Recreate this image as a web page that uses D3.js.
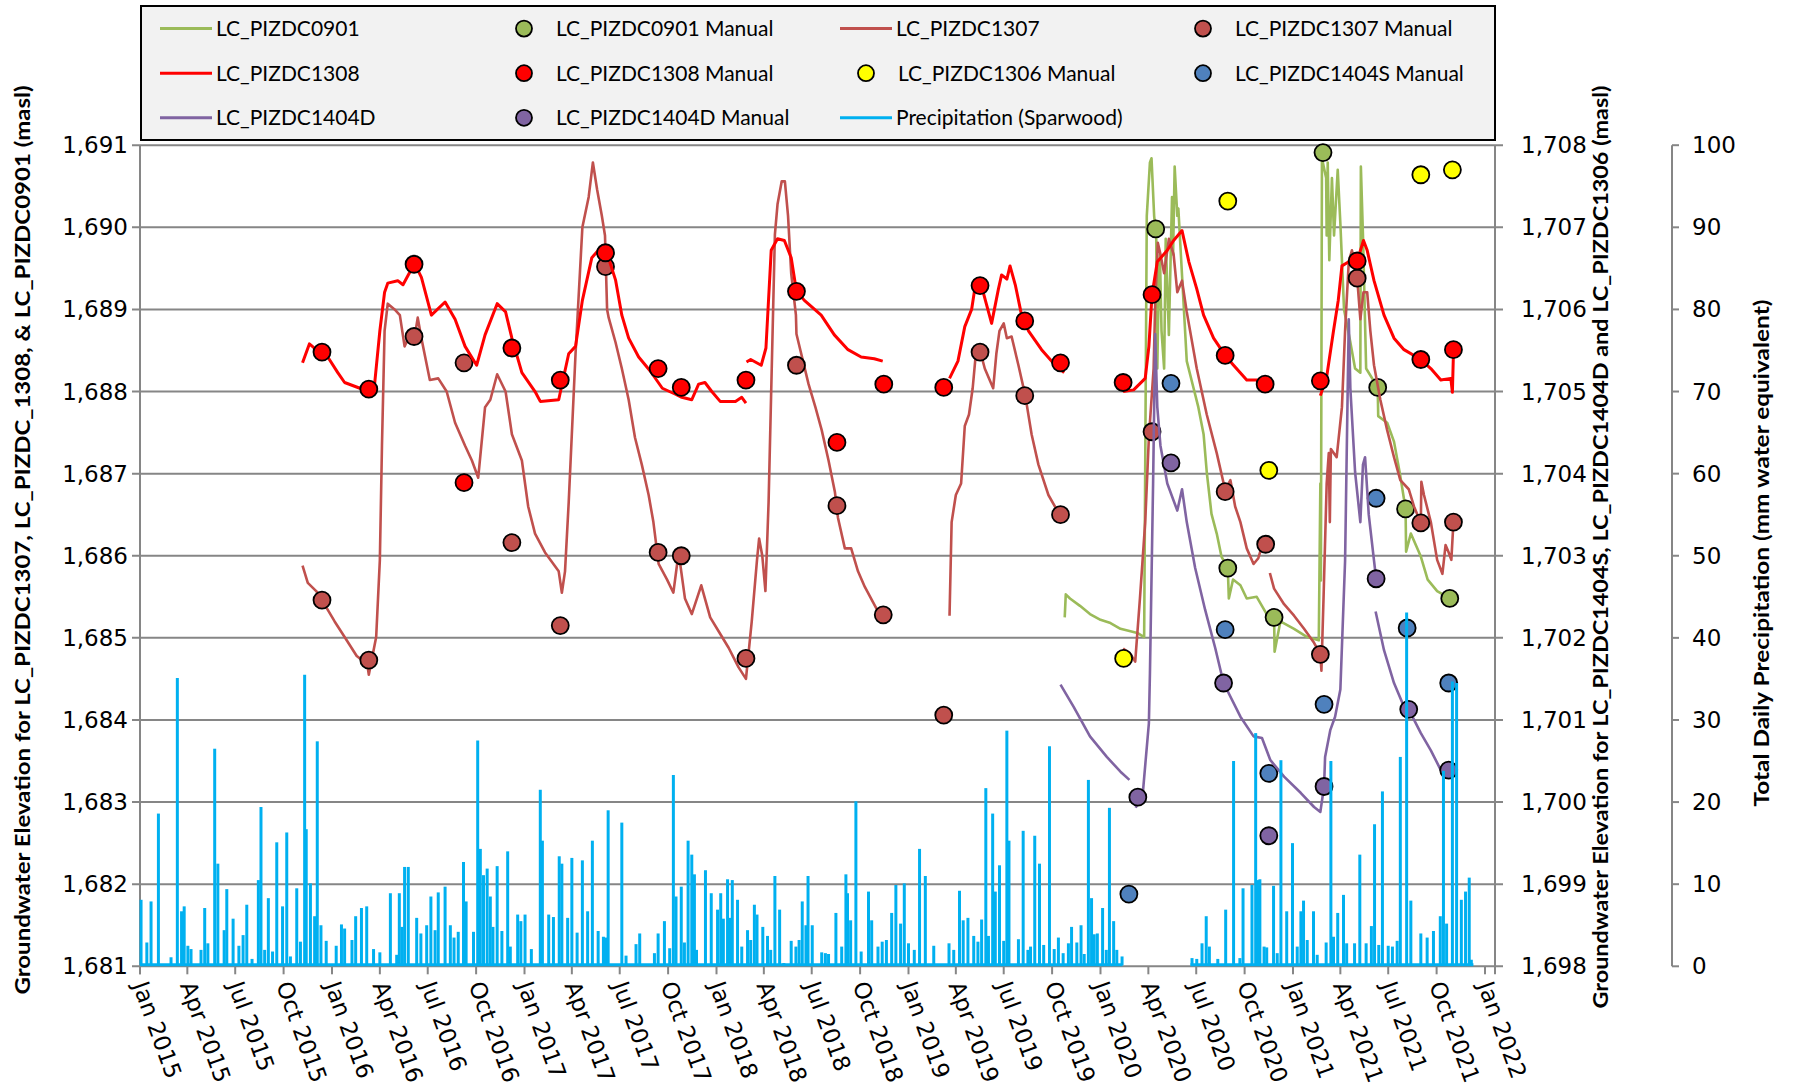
<!DOCTYPE html>
<meta charset="utf-8">
<html>
<head>
<style>
body{margin:0;background:#fff;}
text{font-family:"DejaVu Sans",Verdana,sans-serif;fill:#000;}
.tick-label{font-size:23px;}
.title{font-family:"Liberation Sans Narrow","Lato",sans-serif;font-weight:bold;font-size:21px;}
.legend text{font-family:"Liberation Sans Narrow","Lato",sans-serif;font-size:21px;}
.grid{stroke:#868686;stroke-width:2;}
.axisline{stroke:#868686;stroke-width:2;}
</style>
</head>
<body>
<script src="https://d3js.org/d3.v7.min.js"></script>
<script>
// ---- data ----
// logger lines: [date, elevation]; null breaks the line
var pizdc0901 = [
["2019-10-25",1685.25],["2019-10-27",1685.53],["2019-11-04",1685.48],["2019-11-23",1685.39],["2019-12-12",1685.29],["2020-01-01",1685.22],["2020-01-20",1685.18],["2020-02-08",1685.11],["2020-02-27",1685.08],["2020-03-11",1685.06],["2020-03-24",1685.01],
["2020-03-29",1690.14],["2020-04-04",1690.79],["2020-04-07",1690.84],["2020-04-12",1690.14],["2020-04-16",1689.86],["2020-04-18",1688.28],["2020-04-21",1689.44],["2020-04-23",1689.67],["2020-04-26",1688.74],["2020-05-01",1688.28],["2020-05-04",1689.86],["2020-05-10",1688.69],["2020-05-16",1690.37],["2020-05-18",1689.67],["2020-05-21",1690.74],["2020-05-26",1690.14],["2020-05-28",1690.23],
["2020-06-13",1688.37],["2020-06-26",1688.04],["2020-07-05",1687.81],["2020-07-15",1687.48],["2020-07-21",1687.02],["2020-07-30",1686.51],["2020-08-09",1686.27],["2020-08-18",1685.99],["2020-08-30",1685.85],["2020-09-01",1685.48],["2020-09-09",1685.71],["2020-09-23",1685.64],["2020-10-05",1685.48],["2020-10-24",1685.50],["2020-11-12",1685.29],["2020-11-26",1685.25],["2020-11-27",1684.83],["2020-12-08",1685.20],["2021-01-03",1685.11],["2021-01-28",1685.01],["2021-02-19",1684.97],
["2021-02-22",1686.88],["2021-02-23",1685.70],["2021-02-25",1690.84],["2021-03-05",1690.60],["2021-03-06",1689.90],["2021-03-08",1690.79],["2021-03-11",1689.60],["2021-03-16",1690.60],["2021-03-20",1689.90],["2021-03-27",1690.70],["2021-04-01",1690.05],["2021-04-08",1689.00],["2021-04-20",1688.60],["2021-04-29",1688.28],["2021-05-09",1688.23],["2021-05-10",1690.74],["2021-05-14",1689.90],["2021-05-20",1688.28],
["2021-06-11",1688.05],["2021-06-12",1687.70],["2021-06-29",1687.62],["2021-07-12",1687.39],["2021-07-24",1686.97],["2021-08-03",1686.57],["2021-08-04",1686.05],["2021-08-13",1686.27],["2021-09-01",1685.99],["2021-09-14",1685.71],["2021-10-02",1685.57],["2021-10-26",1685.48]
];
var pizdc0901Manual = [["2020-04-15",1689.98],["2020-08-30",1685.85],["2020-11-26",1685.25],["2021-02-27",1690.91],["2021-06-11",1688.05],["2021-08-03",1686.57],["2021-10-26",1685.48]];

var pizdc1307 = [
["2015-11-06",1685.88],["2015-11-16",1685.67],["2015-12-02",1685.57],["2015-12-13",1685.46],["2016-01-06",1685.20],["2016-01-25",1685.01],["2016-02-17",1684.78],["2016-03-08",1684.68],["2016-03-11",1684.55],["2016-03-25",1685.01],["2016-04-01",1685.95],["2016-04-05",1687.34],["2016-04-10",1688.74],["2016-04-16",1689.07],["2016-04-29",1689.00],["2016-05-09",1688.93],["2016-05-18",1688.55],["2016-05-31",1688.74],["2016-06-05",1688.62],["2016-06-12",1688.90],["2016-06-19",1688.65],["2016-07-05",1688.14],["2016-07-21",1688.16],["2016-08-06",1688.00],["2016-08-22",1687.62],["2016-09-10",1687.34],["2016-09-23",1687.16],["2016-10-05",1686.95],["2016-10-18",1687.81],["2016-10-28",1687.90],["2016-11-10",1688.21],["2016-11-26",1688.00],["2016-12-08",1687.48],["2016-12-27",1687.16],
["2017-01-08",1686.60],["2017-01-21",1686.27],["2017-02-09",1686.04],["2017-03-07",1685.81],["2017-03-13",1685.55],["2017-03-19",1685.81],["2017-03-26",1686.65],["2017-04-08",1688.46],["2017-04-21",1690.00],["2017-05-03",1690.37],["2017-05-11",1690.79],["2017-05-19",1690.46],["2017-05-28",1690.14],["2017-06-03",1689.90],["2017-06-07",1689.00],["2017-06-10",1688.90],["2017-06-23",1688.60],["2017-07-05",1688.28],["2017-07-18",1687.90],["2017-07-30",1687.44],["2017-08-12",1687.11],["2017-08-25",1686.74],["2017-09-03",1686.41],["2017-09-13",1685.90],["2017-09-29",1685.71],["2017-10-11",1685.55],["2017-10-21",1686.04],["2017-11-02",1685.48],["2017-11-15",1685.29],["2017-12-03",1685.64],["2017-12-20",1685.25],
["2018-01-05",1685.08],["2018-01-24",1684.88],["2018-02-12",1684.64],["2018-02-26",1684.50],["2018-03-09",1685.20],["2018-03-19",1685.95],["2018-03-23",1686.21],["2018-03-29",1686.00],["2018-04-04",1685.57],["2018-04-10",1686.65],["2018-04-16",1688.28],["2018-04-22",1689.91],["2018-04-27",1690.28],["2018-05-05",1690.56],["2018-05-11",1690.56],["2018-05-17",1690.14],["2018-05-23",1689.44],["2018-06-01",1688.93],["2018-06-02",1688.70],["2018-06-25",1688.09],["2018-07-08",1687.81],["2018-07-20",1687.53],["2018-08-02",1687.16],["2018-08-14",1686.78],["2018-08-20",1686.46],["2018-09-02",1686.09],["2018-09-14",1686.09],["2018-09-27",1685.81],["2018-10-10",1685.62],["2018-10-26",1685.43],["2018-11-14",1685.20],
null,
["2019-03-20",1685.27],["2019-03-24",1686.41],["2019-04-01",1686.74],["2019-04-11",1686.88],["2019-04-18",1687.58],["2019-04-26",1687.72],["2019-05-03",1688.04],["2019-05-09",1688.46],["2019-05-17",1688.50],["2019-05-26",1688.28],["2019-06-11",1688.04],["2019-06-17",1688.46],["2019-06-23",1688.74],["2019-07-01",1688.83],["2019-07-07",1688.65],["2019-07-16",1688.67],["2019-07-29",1688.32],["2019-08-11",1687.95],["2019-08-23",1687.48],["2019-09-05",1687.11],["2019-09-24",1686.74],["2019-10-17",1686.48],
null,
["2020-02-13",1684.87],["2020-02-27",1684.80],["2020-03-07",1684.71],["2020-03-16",1685.48],["2020-03-26",1686.41],["2020-04-02",1687.44],["2020-04-11",1688.28],["2020-04-14",1689.07],["2020-04-19",1689.81],["2020-04-24",1689.67],["2020-05-01",1689.44],["2020-05-10",1689.86],["2020-05-19",1689.67],["2020-05-26",1689.21],["2020-06-04",1689.35],["2020-06-13",1688.97],["2020-07-02",1688.28],["2020-07-21",1687.72],["2020-08-09",1687.25],["2020-08-25",1686.80],["2020-09-04",1686.92],["2020-09-13",1686.60],["2020-09-23",1686.41],["2020-10-05",1686.09],["2020-10-18",1685.90],["2020-10-27",1685.97],["2020-11-03",1686.12],
null,
["2020-11-18",1685.79],["2020-11-26",1685.60],["2020-12-15",1685.41],["2021-01-03",1685.27],["2021-01-22",1685.11],["2021-02-10",1684.94],["2021-02-22",1684.80],["2021-02-24",1684.60],["2021-02-28",1685.48],["2021-03-06",1686.88],["2021-03-10",1687.25],["2021-03-12",1686.41],["2021-03-14",1687.30],["2021-03-25",1687.20],["2021-04-04",1687.81],["2021-04-10",1688.74],["2021-04-17",1689.58],["2021-04-23",1689.72],["2021-05-03",1689.38],["2021-05-09",1688.88],["2021-05-15",1689.21],["2021-05-22",1689.21],["2021-05-28",1688.74],["2021-06-04",1688.32],["2021-06-16",1687.90],["2021-06-29",1687.53],["2021-07-12",1687.20],["2021-07-24",1686.92],["2021-08-09",1686.81],["2021-08-19",1686.60],["2021-09-01",1686.40],["2021-09-02",1686.90],["2021-09-07",1686.74],["2021-09-20",1686.41],["2021-10-02",1685.95],["2021-10-12",1685.78],["2021-10-18",1686.13],["2021-10-24",1686.04],["2021-10-29",1685.95],["2021-11-02",1686.41]
];
var pizdc1307Manual = [["2015-12-13",1685.46],["2016-03-11",1684.73],["2016-06-05",1688.67],["2016-09-08",1688.35],["2016-12-08",1686.16],["2017-03-10",1685.15],["2017-06-04",1689.52],["2017-09-12",1686.04],["2017-10-26",1686.00],["2018-02-26",1684.75],["2018-06-02",1688.32],["2018-08-18",1686.61],["2018-11-14",1685.28],["2019-03-09",1684.06],["2019-05-17",1688.48],["2019-08-10",1687.95],["2019-10-17",1686.50],["2020-04-08",1687.51],["2020-08-25",1686.78],["2020-11-10",1686.14],["2021-02-22",1684.80],["2021-05-03",1689.38],["2021-09-01",1686.40],["2021-11-02",1686.41]];

var pizdc1308 = [
["2015-11-06",1688.35],["2015-11-19",1688.58],["2015-12-02",1688.51],["2015-12-24",1688.42],["2016-01-12",1688.23],["2016-01-25",1688.11],["2016-02-23",1688.04],["2016-03-22",1688.09],["2016-04-01",1688.74],["2016-04-10",1689.21],["2016-04-16",1689.32],["2016-05-05",1689.35],["2016-05-15",1689.30],["2016-05-25",1689.42],["2016-06-06",1689.56],["2016-06-19",1689.39],["2016-07-08",1688.93],["2016-08-03",1689.09],["2016-08-22",1688.88],["2016-09-10",1688.55],["2016-10-02",1688.32],["2016-10-18",1688.69],["2016-11-10",1689.07],["2016-11-26",1688.97],["2016-12-08",1688.65],["2016-12-27",1688.23],
["2017-01-21",1688.00],["2017-01-31",1687.88],["2017-03-07",1687.90],["2017-03-26",1688.46],["2017-04-08",1688.55],["2017-04-21",1689.11],["2017-05-09",1689.63],["2017-05-28",1689.77],["2017-06-07",1689.68],["2017-06-23",1689.36],["2017-07-05",1688.93],["2017-07-18",1688.65],["2017-08-06",1688.42],["2017-08-28",1688.25],["2017-09-20",1688.04],["2017-10-14",1687.97],["2017-10-27",1687.93],["2017-11-15",1687.90],["2017-11-28",1688.09],["2017-12-10",1688.11],["2017-12-23",1688.00],["2018-01-08",1687.88],["2018-02-06",1687.88],["2018-02-18",1687.93],["2018-02-26",1687.86],
null,
["2018-02-27",1688.36],["2018-03-07",1688.39],["2018-03-27",1688.32],["2018-04-05",1688.53],["2018-04-15",1689.72],["2018-04-27",1689.86],["2018-05-10",1689.84],["2018-05-23",1689.63],["2018-06-02",1689.22],["2018-06-17",1689.11],["2018-07-19",1688.93],["2018-08-13",1688.69],["2018-09-08",1688.51],["2018-10-03",1688.42],["2018-10-28",1688.40],["2018-11-13",1688.37],
null,
["2019-03-20",1688.16],["2019-04-05",1688.37],["2019-04-18",1688.79],["2019-05-01",1689.00],["2019-05-07",1689.25],["2019-05-20",1689.28],["2019-06-08",1688.83],["2019-06-21",1689.25],["2019-06-27",1689.42],["2019-07-07",1689.37],["2019-07-13",1689.53],["2019-07-23",1689.30],["2019-08-04",1688.93],["2019-08-17",1688.74],["2019-09-11",1688.51],["2019-10-07",1688.32],["2019-10-24",1688.23],
null,
["2020-02-13",1688.00],["2020-03-04",1688.02],["2020-03-26",1688.16],["2020-04-02",1688.55],["2020-04-08",1689.18],["2020-04-18",1689.58],["2020-05-07",1689.72],["2020-05-19",1689.84],["2020-06-04",1689.96],["2020-06-17",1689.58],["2020-07-02",1689.25],["2020-07-15",1688.93],["2020-08-03",1688.65],["2020-08-25",1688.44],["2020-09-10",1688.32],["2020-10-05",1688.14],["2020-10-30",1688.14],["2020-11-09",1688.09],
null,
["2021-02-22",1687.95],["2021-03-06",1688.18],["2021-03-19",1688.74],["2021-03-28",1689.11],["2021-04-04",1689.53],["2021-04-17",1689.58],["2021-05-03",1689.59],["2021-05-15",1689.84],["2021-05-22",1689.72],["2021-06-04",1689.35],["2021-06-23",1688.93],["2021-07-12",1688.65],["2021-07-31",1688.51],["2021-09-01",1688.39],["2021-09-20",1688.28],["2021-10-09",1688.14],["2021-10-28",1688.16],["2021-10-31",1687.99],["2021-11-02",1688.47]
];
var pizdc1308Manual = [["2015-12-13",1688.48],["2016-03-11",1688.03],["2016-06-05",1689.55],["2016-09-08",1686.89],["2016-12-08",1688.53],["2017-03-10",1688.14],["2017-06-04",1689.69],["2017-09-12",1688.28],["2017-10-26",1688.05],["2018-02-26",1688.14],["2018-06-02",1689.22],["2018-08-18",1687.38],["2018-11-15",1688.09],["2019-03-09",1688.05],["2019-05-17",1689.29],["2019-08-10",1688.86],["2019-10-17",1688.35],["2020-02-13",1688.11],["2020-04-08",1689.18],["2020-08-25",1688.44],["2020-11-09",1688.09],["2021-02-22",1688.13],["2021-05-03",1689.59],["2021-09-01",1688.39],["2021-11-02",1688.51]];

// right axis series
var pizdc1306Manual = [["2020-02-14",1701.75],["2020-08-30",1707.32],["2020-11-16",1704.04],["2021-09-01",1707.64],["2021-10-31",1707.70]];
var pizdc1404SManual = [["2020-02-24",1698.88],["2020-05-14",1705.10],["2020-08-25",1702.10],["2020-11-16",1700.35],["2021-03-01",1701.19],["2021-06-08",1703.70],["2021-08-06",1702.12],["2021-10-24",1701.45]];
var pizdc1404D = [
["2019-10-17",1701.43],["2019-11-11",1701.16],["2019-12-12",1700.80],["2020-01-13",1700.55],["2020-02-08",1700.37],["2020-02-25",1700.27],
null,
["2020-03-08",1699.93],["2020-03-22",1700.15],["2020-04-02",1700.96],["2020-04-04",1701.57],["2020-04-10",1703.88],["2020-04-14",1705.70],["2020-04-18",1704.81],["2020-04-24",1704.34],["2020-05-07",1703.88],["2020-05-26",1703.55],["2020-06-04",1703.81],["2020-06-13",1703.41],["2020-06-29",1702.85],["2020-07-18",1702.34],["2020-08-06",1701.88],["2020-08-22",1701.45],["2020-09-23",1701.04],["2020-10-18",1700.80],["2020-11-03",1700.78],["2020-11-19",1700.51],["2020-12-15",1700.31],["2021-01-16",1700.11],["2021-02-10",1699.94],["2021-02-22",1699.88],["2021-03-01",1700.19],["2021-03-03",1700.55],["2021-03-13",1700.88],["2021-03-22",1701.04],["2021-04-01",1701.37],["2021-04-10",1702.94],["2021-04-17",1705.88],["2021-04-20",1705.04],["2021-04-29",1704.02],["2021-05-09",1703.41],["2021-05-14",1704.11],["2021-05-18",1704.20],["2021-05-25",1703.50],["2021-06-04",1702.94],["2021-06-08",1702.72],
null,
["2021-06-07",1702.32],["2021-06-23",1701.85],["2021-07-12",1701.45],["2021-07-31",1701.16],["2021-08-09",1701.13],["2021-09-01",1700.84],["2021-09-20",1700.63],["2021-10-09",1700.39],["2021-10-24",1700.39]
];
var pizdc1404DManual = [["2020-03-12",1700.06],["2020-05-14",1704.13],["2020-08-22",1701.45],["2020-11-16",1699.59],["2021-03-01",1700.19],["2021-06-08",1702.72],["2021-08-09",1701.13],["2021-10-24",1700.39]];

// daily precipitation spikes (mm), and the spans with records
var precip = [
["2015-01-03",8.1],["2015-01-14",2.9],["2015-01-22",7.9],["2015-02-05",18.6],["2015-03-01",1.1],["2015-03-13",35.1],["2015-03-21",6.7],["2015-03-26",7.3],["2015-04-02",2.5],["2015-04-08",2.1],["2015-04-27",2.0],["2015-05-04",7.1],["2015-05-10",2.8],["2015-05-23",26.5],["2015-05-29",12.5],["2015-06-10",4.4],["2015-06-15",9.4],["2015-06-27",5.8],["2015-07-08",2.5],["2015-07-16",3.8],["2015-07-23",7.5],["2015-08-02",0.9],["2015-08-14",10.5],["2015-08-19",19.4],["2015-08-26",2.0],["2015-09-02",8.3],["2015-09-10",1.8],["2015-09-18",15.1],["2015-09-29",7.3],["2015-10-07",16.3],["2015-10-14",1.2],["2015-10-26",9.5],["2015-11-02",3.0],["2015-11-10",35.5],["2015-11-13",16.7],["2015-11-21",10.1],["2015-11-29",6.1],["2015-12-04",27.4],["2015-12-11",5.0],["2015-12-21",3.1],
["2016-01-09",2.5],["2016-01-19",5.1],["2016-01-25",4.6],["2016-02-08",3.2],["2016-02-15",6.1],["2016-02-26",7.1],["2016-03-07",7.3],["2016-03-20",2.1],["2016-04-01",1.7],["2016-04-21",8.9],["2016-05-03",1.4],["2016-05-08",8.9],["2016-05-13",4.8],["2016-05-18",12.1],["2016-05-25",12.1],["2016-06-10",5.9],["2016-06-18",4.0],["2016-06-29",5.0],["2016-07-07",8.5],["2016-07-15",4.4],["2016-07-21",9.0],["2016-08-03",9.7],["2016-08-13",5.0],["2016-08-20",3.5],["2016-08-28",4.2],["2016-09-07",12.7],["2016-09-12",7.9],["2016-09-26",4.2],["2016-10-04",27.5],["2016-10-09",14.3],["2016-10-15",11.1],["2016-10-22",11.9],["2016-10-28",8.5],["2016-11-02",4.8],["2016-11-10",12.2],["2016-11-19",4.3],["2016-11-30",14.0],["2016-12-05",2.4],["2016-12-19",6.3],["2016-12-25",5.5],
["2017-01-02",6.3],["2017-01-14",2.1],["2017-01-31",21.5],["2017-02-04",15.3],["2017-02-16",6.3],["2017-02-25",6.0],["2017-03-08",13.4],["2017-03-13",12.5],["2017-03-24",5.9],["2017-04-01",13.2],["2017-04-11",4.1],["2017-04-21",12.9],["2017-05-01",6.7],["2017-05-10",15.3],["2017-05-21",4.3],["2017-05-31",3.6],["2017-06-04",3.5],["2017-06-09",19.0],["2017-07-05",17.5],["2017-07-13",1.3],["2017-08-01",2.7],["2017-08-08",4.0],["2017-09-05",1.6],["2017-09-12",4.0],["2017-09-24",5.5],["2017-10-04",2.2],["2017-10-11",23.3],["2017-10-16",8.5],["2017-10-26",9.7],["2017-11-01",2.9],["2017-11-08",15.3],["2017-11-15",13.6],["2017-11-20",11.2],["2017-11-24",2.0],["2017-12-11",11.7],["2017-12-22",8.9],
["2018-01-03",6.9],["2018-01-09",8.9],["2018-01-14",5.8],["2018-01-22",10.6],["2018-01-27",5.9],["2018-01-31",10.5],["2018-02-10",8.1],["2018-02-18",2.4],["2018-03-01",4.4],["2018-03-07",3.2],["2018-03-14",7.5],["2018-03-19",6.3],["2018-03-30",4.8],["2018-04-08",3.7],["2018-04-14",2.0],["2018-04-22",11.0],["2018-05-01",6.9],["2018-05-09",0.4],["2018-05-23",3.1],["2018-06-01",2.4],["2018-06-07",3.2],["2018-06-13",7.9],["2018-06-20",5.0],["2018-06-24",11.0],["2018-07-02",5.0],["2018-07-20",1.7],["2018-07-27",1.6],["2018-08-02",1.5],["2018-08-16",6.5],["2018-08-27",2.4],["2018-09-04",11.2],["2018-09-07",8.9],["2018-09-13",5.6],["2018-09-23",20.1],["2018-10-03",1.8],["2018-10-17",9.1],["2018-10-23",5.6],["2018-11-04",2.4],["2018-11-12",3.0],["2018-11-20",3.2],["2018-11-30",6.5],["2018-12-08",9.9],["2018-12-17",5.2],["2018-12-24",10.1],
["2019-01-01",2.8],["2019-01-12",2.0],["2019-01-22",14.3],["2019-02-02",11.0],["2019-02-18",2.5],["2019-03-19",2.8],["2019-03-28",2.0],["2019-04-08",9.2],["2019-04-15",5.6],["2019-04-24",5.9],["2019-05-05",3.7],["2019-05-13",3.0],["2019-05-20",5.7],["2019-05-28",21.7],["2019-06-02",3.7],["2019-06-10",18.6],["2019-06-15",9.1],["2019-06-23",12.3],["2019-07-01",3.1],["2019-07-07",28.7],["2019-07-11",15.3],["2019-07-29",3.3],["2019-08-07",16.5],["2019-08-16",2.0],["2019-08-21",2.4],["2019-08-29",15.9],["2019-09-07",12.5],["2019-09-15",2.6],["2019-09-26",26.8],["2019-10-05",2.1],["2019-10-13",3.5],["2019-10-22",1.6],["2019-11-01",2.8],["2019-11-07",4.8],["2019-11-17",2.9],["2019-11-25",5.0],["2019-12-01",1.5],["2019-12-09",22.7],["2019-12-15",8.3],["2019-12-20",3.9],["2019-12-26",4.0],
["2020-01-05",7.1],["2020-01-12",2.0],["2020-01-18",19.3],["2020-01-26",5.5],["2020-02-01",2.0],["2020-02-11",1.2],
["2020-06-23",1.0],["2020-07-02",0.9],["2020-07-12",2.8],["2020-07-20",6.1],["2020-07-26",2.4],["2020-08-11",0.9],["2020-08-26",6.9],["2020-09-10",25.0],["2020-09-22",1.0],["2020-09-28",9.5],["2020-10-15",9.9],["2020-10-22",28.4],["2020-10-26",10.5],["2020-10-30",10.6],["2020-11-07",2.4],["2020-11-12",2.3],["2020-11-25",9.8],["2020-12-02",1.6],["2020-12-09",25.1],["2020-12-20",6.7],["2020-12-31",15.0],
["2021-01-09",2.4],["2021-01-16",6.7],["2021-01-21",8.0],["2021-01-28",3.2],["2021-02-09",6.7],["2021-02-16",1.4],["2021-03-05",2.9],["2021-03-14",25.0],["2021-03-19",3.6],["2021-03-27",6.5],["2021-04-07",8.7],["2021-04-13",2.8],["2021-04-28",2.8],["2021-05-08",13.6],["2021-05-20",2.8],["2021-05-30",4.9],["2021-06-05",17.3],["2021-06-13",2.6],["2021-06-20",21.3],["2021-07-01",2.5],["2021-07-09",2.4],["2021-07-18",3.1],["2021-07-24",25.5],["2021-08-05",43.1],["2021-08-13",8.0],["2021-09-01",4.0],["2021-09-13",3.5],["2021-09-25",4.3],["2021-10-08",6.1],["2021-10-14",23.8],["2021-10-20",5.2],["2021-10-31",34.7],["2021-11-08",34.5],["2021-11-17",8.1],["2021-11-25",9.1],["2021-12-02",10.8],["2021-12-06",0.8]
];
var precipSpans = [["2015-01-01","2020-02-12"],["2020-06-20","2021-12-10"]];

var leftTicks = [1681,1682,1683,1684,1685,1686,1687,1688,1689,1690,1691];
var rightTicks = [1698,1699,1700,1701,1702,1703,1704,1705,1706,1707,1708];
var precipTicks = [0,10,20,30,40,50,60,70,80,90,100];

var green = "#9BBB59", brown = "#C0504D", red = "#FF0000", yellow = "#FFFF00",
    steel = "#4F81BD", purple = "#8064A2", sky = "#00B0F0";

// ---- chart ----
var W = 1793, H = 1086;
var pL = 140, pR = 1495, pT = 145.2, pB = 966.3;
var parse = d3.timeParse("%Y-%m-%d");

var svg = d3.select("body").append("svg").attr("width", W).attr("height", H)
  .style("background", "#fff");

var x = d3.scaleTime().domain([parse("2015-01-01"), parse("2022-01-20")]).range([pL, pR]);
var yL = d3.scaleLinear().domain([1681, 1691]).range([pB, pT]);
var yR = d3.scaleLinear().domain([1698, 1708]).range([pB, pT]);
var yP = d3.scaleLinear().domain([0, 100]).range([pB, pT]);

// gridlines (with outside tick stubs)
svg.append("g").selectAll("line").data(leftTicks).enter().append("line")
  .attr("class", "grid").attr("x1", pL - 8).attr("x2", pR + 8)
  .attr("y1", d => yL(d)).attr("y2", d => yL(d));

svg.append("line").attr("class", "axisline").attr("x1", pL).attr("x2", pL).attr("y1", pT).attr("y2", pB + 8);
svg.append("line").attr("class", "axisline").attr("x1", pR).attr("x2", pR).attr("y1", pT).attr("y2", pB + 8);

// x axis ticks + labels
var xt = x.ticks(d3.timeMonth.every(3)).filter(d => d <= parse("2022-01-01"));
svg.append("g").selectAll("line").data(xt).enter().append("line")
  .attr("class", "axisline").attr("x1", d => x(d)).attr("x2", d => x(d))
  .attr("y1", pB).attr("y2", pB + 8);
svg.append("g").selectAll("text").data(xt).enter().append("text")
  .attr("class", "tick-label")
  .attr("transform", d => "translate(" + x(d) + "," + (pB + 16) + ") rotate(70)")
  .attr("dy", "0.35em")
  .text(d3.timeFormat("%b %Y"));

// y tick labels
var fmt = d3.format(",");
svg.append("g").selectAll("text").data(leftTicks).enter().append("text")
  .attr("class", "tick-label").attr("x", 128).attr("y", d => yL(d)).attr("dy", "0.35em")
  .attr("text-anchor", "end").text(fmt);
svg.append("g").selectAll("text").data(rightTicks).enter().append("text")
  .attr("class", "tick-label").attr("x", 1521).attr("y", d => yR(d)).attr("dy", "0.35em")
  .text(fmt);

// precipitation axis
var px = 1672;
svg.append("line").attr("class", "axisline").attr("x1", px).attr("x2", px).attr("y1", pT).attr("y2", pB);
svg.append("g").selectAll("line").data(precipTicks).enter().append("line")
  .attr("class", "axisline").attr("x1", px).attr("x2", px + 7)
  .attr("y1", d => yP(d)).attr("y2", d => yP(d));
svg.append("g").selectAll("text").data(precipTicks).enter().append("text")
  .attr("class", "tick-label").attr("x", 1692).attr("y", d => yP(d)).attr("dy", "0.35em")
  .text(d => d);

// axis titles
function vtitle(cx, cy, len, str) {
  svg.append("text").attr("class", "title")
    .attr("transform", "translate(" + cx + "," + cy + ") rotate(-90)")
    .attr("text-anchor", "middle").attr("dy", "0.35em")
    .attr("textLength", len).attr("lengthAdjust", "spacingAndGlyphs")
    .text(str);
}
vtitle(23, 540, 909, "Groundwater Elevation for LC_PIZDC1307, LC_PIZDC_1308, & LC_PIZDC0901 (masl)");
vtitle(1601, 547, 923, "Groundwater Elevation for LC_PIZDC1404S, LC_PIZDC1404D and LC_PIZDC1306 (masl)");
vtitle(1762, 553, 507, "Total Daily Precipitation (mm water equivalent)");

// series helpers
function pts(arr) { return arr.map(d => d ? { t: parse(d[0]), v: d[1] } : null); }
function drawLine(arr, y, color, w) {
  var line = d3.line().defined(d => d).x(d => x(d.t)).y(d => y(d.v));
  svg.append("path").datum(pts(arr)).attr("d", line)
    .attr("fill", "none").attr("stroke", color).attr("stroke-width", w)
    .attr("stroke-linejoin", "round");
}
function drawDots(arr, y, color) {
  svg.append("g").selectAll("circle").data(pts(arr)).enter().append("circle")
    .attr("cx", d => x(d.t)).attr("cy", d => y(d.v)).attr("r", 8.5)
    .attr("fill", color).attr("stroke", "#000").attr("stroke-width", 1.8);
}

drawLine(pizdc0901, yL, green, 2.6);
drawDots(pizdc0901Manual, yL, green);
drawLine(pizdc1307, yL, brown, 2.6);
drawDots(pizdc1307Manual, yL, brown);
drawLine(pizdc1308, yL, red, 3);
drawDots(pizdc1308Manual, yL, red);
drawDots(pizdc1306Manual, yR, yellow);
drawDots(pizdc1404SManual, yR, steel);
drawLine(pizdc1404D, yR, purple, 2.6);
drawDots(pizdc1404DManual, yR, purple);

// precipitation on top
var pg = svg.append("g");
pg.selectAll("line.base").data(precipSpans).enter().append("line")
  .attr("x1", d => x(parse(d[0]))).attr("x2", d => x(parse(d[1])))
  .attr("y1", yP(0) - 1.5).attr("y2", yP(0) - 1.5)
  .attr("stroke", sky).attr("stroke-width", 3);
pg.selectAll("line.spike").data(pts(precip)).enter().append("line")
  .attr("x1", d => x(d.t)).attr("x2", d => x(d.t))
  .attr("y1", yP(0) - 1).attr("y2", d => yP(d.v))
  .attr("stroke", sky).attr("stroke-width", 3);

// legend
var legendItems = [
  ["LC_PIZDC0901", "line", green], ["LC_PIZDC0901 Manual", "dot", green], ["LC_PIZDC1307", "line", brown], ["LC_PIZDC1307 Manual", "dot", brown],
  ["LC_PIZDC1308", "line", red], ["LC_PIZDC1308 Manual", "dot", red], ["LC_PIZDC1306 Manual", "dot", yellow], ["LC_PIZDC1404S Manual", "dot", steel],
  ["LC_PIZDC1404D", "line", purple], ["LC_PIZDC1404D Manual", "dot", purple], ["Precipitation (Sparwood)", "line", sky]
];
var colX = [186, 524, 866, 1203], rowY = [28.6, 73.2, 117.8];
var lg = svg.append("g").attr("class", "legend");
lg.append("rect").attr("x", 141).attr("y", 6).attr("width", 1354).attr("height", 134)
  .attr("fill", "#F2F2F2").attr("stroke", "#000").attr("stroke-width", 2);
var items = lg.selectAll("g.item").data(legendItems).enter().append("g")
  .attr("transform", (d, i) => "translate(" + colX[i % 4] + "," + rowY[Math.floor(i / 4)] + ")");
items.filter(d => d[1] == "line").append("line")
  .attr("x1", -26).attr("x2", 26).attr("stroke", d => d[2]).attr("stroke-width", 3);
items.filter(d => d[1] == "dot").append("circle")
  .attr("r", 8).attr("fill", d => d[2]).attr("stroke", "#000").attr("stroke-width", 1.8);
items.append("text").attr("x", d => d[1] == "line" ? 30 : 32).attr("dy", "0.35em").text(d => d[0]);
</script>
</body>
</html>
